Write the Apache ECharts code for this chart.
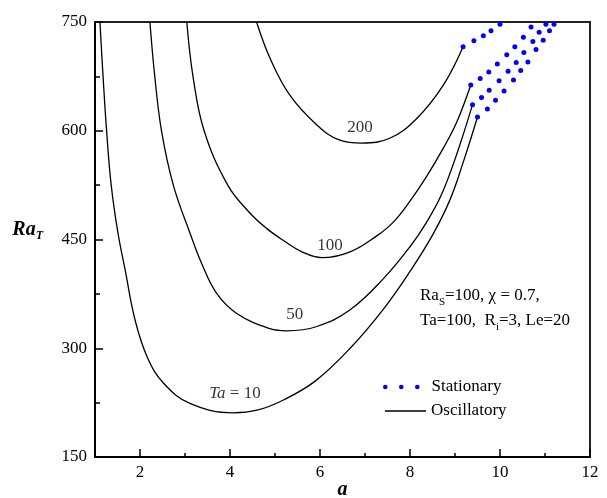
<!DOCTYPE html>
<html>
<head>
<meta charset="utf-8">
<script src="https://cdn.jsdelivr.net/npm/echarts@6/dist/echarts.min.js"></script>
<style>
html, body { margin: 0; padding: 0; background: #fff; }
#chart { width: 607px; height: 498px; }
</style>
</head>
<body>
<div id="chart"></div>
<script>
// tick positions
const xTicks = [2, 4, 6, 8, 10, 12]
const xMinorTicks = [1, 3, 5, 7, 9, 11]

// oscillatory neutral curves (a, Ra_T)
const oscTa10 = [[1.11, 750], [1.18, 674], [1.26, 598], [1.36, 525], [1.51, 459], [1.67, 408], [1.89, 339],
  [2.16, 288], [2.52, 252], [3.11, 224], [4.07, 211], [4.6, 214.5], [5.2, 229], [5.9, 255], [6.67, 300],
  [7.41, 354], [8.0, 406], [8.5, 456], [8.89, 505], [9.18, 556], [9.5, 619]]
const oscTa50 = [[2.22, 750], [2.33, 674], [2.48, 599], [2.74, 525], [3.11, 459], [3.37, 417], [3.7, 376],
  [4.15, 348], [4.89, 327], [5.26, 324], [5.93, 330], [6.67, 353], [7.41, 396], [8.0, 440], [8.37, 474],
  [8.7, 512], [9.04, 568], [9.39, 636]]
const oscTa100 = [[3.04, 750], [3.18, 674], [3.43, 599], [3.95, 525], [4.42, 488], [4.82, 465], [5.18, 449],
  [5.6, 433], [6.04, 425], [6.67, 433], [7.26, 455], [7.63, 474], [8.0, 503], [8.37, 537], [8.74, 576],
  [9.04, 612], [9.35, 663]]
const oscTa200 = [[4.59, 750], [4.89, 700], [5.33, 649], [5.93, 608], [6.44, 587], [6.93, 583], [7.56, 590],
  [8.15, 617], [8.74, 663], [9.18, 716]]

// stationary branches (dots)
const staTa10 = [[9.5, 619], [9.72, 630], [9.9, 642], [10.09, 655], [10.3, 670], [10.46, 683], [10.62, 695],
  [10.8, 712], [10.96, 725], [11.1, 738], [11.2, 747]]
const staTa50 = [[9.39, 636], [9.59, 646], [9.76, 656], [9.98, 669], [10.18, 682], [10.36, 694], [10.53, 708],
  [10.73, 723], [10.87, 736], [11.02, 747]]
const staTa100 = [[9.35, 663], [9.56, 672], [9.75, 681], [9.94, 692], [10.15, 705], [10.33, 716], [10.52, 729],
  [10.69, 743]]
const staTa200 = [[9.18, 716], [9.42, 724], [9.63, 731], [9.8, 738], [10.0, 747]]

// curve labels [a, Ra_T, text]
const curveLabels = [[6.89, 605, '200'], [6.22, 442, '100'], [5.44, 346, '50'], [4.11, 238, '{i|Ta} = 10']]

const FONT = 'Liberation Serif'
const chart = echarts.init(document.getElementById('chart'))

function oscSeries(data) {
  return {
    name: 'Oscillatory',
    type: 'line',
    data: data,
    smooth: 0.4,
    symbol: 'none',
    lineStyle: { color: '#000', width: 1.3 },
    itemStyle: { color: '#000' },
    z: 3
  }
}

function staSeries(data) {
  return {
    name: 'Stationary',
    type: 'line',
    data: data,
    symbol: 'circle',
    symbolSize: 5,
    showSymbol: true,
    lineStyle: { opacity: 0 },
    itemStyle: { color: '#0000ff' },
    z: 4
  }
}

const dotIcon = 'path://M0,2.3a2.3,2.3 0 1,0 4.6,0a2.3,2.3 0 1,0 -4.6,0zM16,2.3a2.3,2.3 0 1,0 4.6,0a2.3,2.3 0 1,0 -4.6,0zM32,2.3a2.3,2.3 0 1,0 4.6,0a2.3,2.3 0 1,0 -4.6,0z'

const option = {
  animation: false,
  backgroundColor: '#fff',
  grid: { left: 95, right: 17, top: 22, bottom: 41, outerBoundsMode: 'none' },
  legend: [{
    data: [{ name: 'Stationary', icon: dotIcon }],
    left: 383, top: 378, padding: 0,
    itemWidth: 36.6, itemHeight: 4.6,
    textStyle: { fontFamily: FONT, fontSize: 17, color: '#000', lineHeight: 18, padding: [0, 0, 0, 7] }
  }, {
    data: [{ name: 'Oscillatory', icon: 'path://M0,0H41V1.5H0Z' }],
    left: 385, top: 402, padding: 0,
    itemWidth: 41, itemHeight: 1.5,
    textStyle: { fontFamily: FONT, fontSize: 17, color: '#000', lineHeight: 18 }
  }],
  xAxis: [{
    type: 'value', min: 1, max: 12, interval: 1,
    name: 'a', nameLocation: 'middle', nameGap: 23, nameMoveOverlap: false,
    nameTextStyle: { fontFamily: FONT, fontSize: 20, fontWeight: 'bold', fontStyle: 'italic', color: '#000' },
    axisLine: { show: true, lineStyle: { color: '#000', width: 2 } },
    axisTick: { show: true, inside: true, length: 8, customValues: xTicks, lineStyle: { color: '#000', width: 1.5 } },
    axisLabel: { customValues: xTicks, margin: 7, fontFamily: FONT, fontSize: 17, color: '#000' },
    splitLine: { show: false }
  }, {
    type: 'value', min: 1, max: 12, interval: 1, position: 'bottom',
    axisLine: { show: false },
    axisTick: { show: true, inside: true, length: 4, customValues: xMinorTicks, lineStyle: { color: '#000', width: 1.5 } },
    axisLabel: { show: false },
    splitLine: { show: false }
  }, {
    type: 'value', min: 1, max: 12, position: 'top',
    axisLine: { show: true, lineStyle: { color: '#222', width: 2 } },
    axisTick: { show: false }, axisLabel: { show: false }, splitLine: { show: false }
  }],
  yAxis: [{
    type: 'value', min: 150, max: 750, interval: 150,
    name: '{b|Ra}{t|T}', nameLocation: 'middle', nameRotate: 0, nameGap: 52, nameMoveOverlap: false,
    nameTextStyle: {
      padding: [0, 0, 20, 0],
      rich: {
        b: { fontFamily: FONT, fontSize: 20, fontWeight: 'bold', fontStyle: 'italic', color: '#000', lineHeight: 24 },
        t: { fontFamily: FONT, fontSize: 12, fontWeight: 'bold', fontStyle: 'italic', color: '#000', lineHeight: 10, verticalAlign: 'bottom' }
      }
    },
    axisLine: { show: true, lineStyle: { color: '#000', width: 2 } },
    axisTick: { show: true, inside: true, length: 8, lineStyle: { color: '#000', width: 1.5 } },
    minorTick: { show: true, splitNumber: 2, length: 5, lineStyle: { color: '#000', width: 1.5 } },
    axisLabel: { margin: 8, fontFamily: FONT, fontSize: 17, color: '#000' },
    splitLine: { show: false }
  }, {
    type: 'value', min: 150, max: 750, position: 'right',
    axisLine: { show: true, lineStyle: { color: '#222', width: 2 } },
    axisTick: { show: false }, axisLabel: { show: false }, splitLine: { show: false }
  }],
  graphic: [{
    type: 'text', left: 420, top: 287,
    style: {
      text: '{n|Ra}{s|S}{n|=100, χ = 0.7,}\n{n|Ta=100,  R}{s|i}{n|=3, Le=20}',
      rich: {
        n: { fontFamily: FONT, fontSize: 17, fill: '#000', lineHeight: 25 },
        s: { fontFamily: FONT, fontSize: 11, fill: '#000', lineHeight: 11, verticalAlign: 'bottom' }
      }
    }
  }],
  series: [
    oscSeries(oscTa10), oscSeries(oscTa50), oscSeries(oscTa100), oscSeries(oscTa200),
    staSeries(staTa10), staSeries(staTa50), staSeries(staTa100), staSeries(staTa200),
    {
      type: 'scatter',
      data: curveLabels,
      symbolSize: 1,
      itemStyle: { color: 'transparent' },
      silent: true,
      label: {
        show: true, position: 'inside',
        formatter: p => p.data[2],
        fontFamily: FONT, fontSize: 17, color: '#000',
        rich: { i: { fontFamily: FONT, fontSize: 17, fontStyle: 'italic', color: '#000' } }
      },
      z: 5
    }
  ]
}

chart.setOption(option)
</script>
</body>
</html>
